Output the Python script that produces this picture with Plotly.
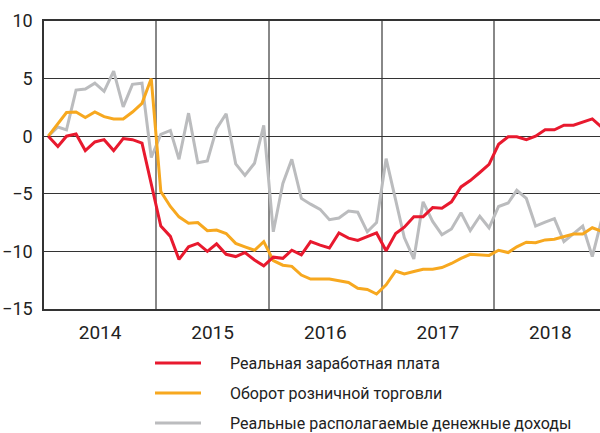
import plotly.graph_objects as go

# ---- data ----
years = [2014, 2015, 2016, 2017, 2018]
months = [f"{y}-{m:02d}-15" for y in years for m in range(1, 13)]
year_labels = ["2014", "2015", "2016", "2017", "2018"]

series_names = ["Реальная заработная плата",
                "Оборот розничной торговли",
                "Реальные располагаемые денежные доходы"]

real_wage = [
    0, -0.9, 0.0, 0.2, -1.25, -0.5, -0.3, -1.25, -0.2, -0.3, -0.6, -4.2,
    -7.8, -8.7, -10.7, -9.6, -9.3, -10.0, -9.35, -10.25, -10.45, -10.1, -10.75, -11.25,
    -10.5, -10.6, -9.9, -10.3, -9.15, -9.45, -9.7, -8.4, -8.85, -9.05, -8.7, -8.4,
    -9.95, -8.45, -7.9, -7.0, -7.0, -6.2, -6.25, -5.7, -4.4, -3.85, -3.15, -2.45,
    -0.7, -0.05, -0.05, -0.3, 0.0, 0.55, 0.55, 0.95, 0.95, 1.25, 1.5, 0.8]

retail = [
    0, 1.1, 2.05, 2.1, 1.62, 2.1, 1.7, 1.5, 1.5, 2.1, 2.85, 5.0,
    -4.8, -6.1, -7.0, -7.55, -7.5, -8.2, -8.15, -8.45, -9.3, -9.6, -9.9, -9.15,
    -10.8, -11.2, -11.3, -12.05, -12.4, -12.4, -12.4, -12.55, -12.7, -13.2, -13.3, -13.7,
    -12.9, -11.7, -11.95, -11.75, -11.55, -11.55, -11.4, -11.05, -10.6, -10.25, -10.3, -10.35,
    -9.9, -10.1, -9.6, -9.2, -9.25, -9.0, -8.95, -8.7, -8.5, -8.5, -7.95, -8.25]

income = [
    0, 0.8, 0.55, 4.0, 4.1, 4.6, 3.9, 5.65, 2.55, 4.5, 4.6, -1.85,
    0.15, 0.5, -2.0, 2.0, -2.3, -2.15, 0.65, 1.95, -2.4, -3.4, -2.35, 0.95,
    -8.3, -4.1, -2.0, -5.4, -5.9, -6.35, -7.25, -7.1, -6.5, -6.6, -8.3, -7.5,
    -1.95, -5.5, -8.8, -10.65, -5.7, -7.4, -8.55, -8.05, -6.65, -8.2, -6.95, -7.95,
    -6.1, -5.8, -4.7, -5.4, -7.8, -7.45, -7.15, -9.15, -8.5, -7.8, -10.45, -7.3]

y_ticks = [-15, -10, -5, 0, 5, 10]

# ---- style ----
colors = ["#E8192E", "#F7A81F", "#BBBCBE"]
FONT = "Roboto, sans-serif"

fig = go.Figure()
for name, vals, col in [(series_names[2], income, colors[2]),
                        (series_names[1], retail, colors[1]),
                        (series_names[0], real_wage, colors[0])]:
    fig.add_trace(go.Scatter(x=months, y=vals, mode="lines", name=name,
                             line=dict(color=col, width=3), showlegend=False))

W, H = 600, 433
L, R, T, B = 44, 0, 21, 124
pw, ph = W - L - R, H - T - B

def px_to_paper(px, py):
    return (px - L) / pw, (H - B - py) / ph

# manual legend
legend_rows = [(series_names[0], colors[0], 363),
               (series_names[1], colors[1], 393),
               (series_names[2], colors[2], 423)]
for name, col, py in legend_rows:
    x0, y0 = px_to_paper(155, py)
    x1, _ = px_to_paper(201, py)
    fig.add_shape(type="line", xref="paper", yref="paper", x0=x0, x1=x1, y0=y0, y1=y0,
                  line=dict(color=col, width=3))
    tx, ty = px_to_paper(228, py)
    fig.add_annotation(xref="paper", yref="paper", x=tx, y=ty, text=name,
                       showarrow=False, xanchor="left", yanchor="middle",
                       font=dict(family=FONT, size=16, color="#222"))

fig.update_layout(
    width=W, height=H,
    margin=dict(l=L, r=R, t=T, b=B, pad=0),
    plot_bgcolor="white", paper_bgcolor="white",
    font=dict(family=FONT, size=19, color="#222"),
    xaxis=dict(
        type="date",
        range=["2014-01-01", "2018-12-10"],
        tickmode="array",
        tickvals=[f"{y}-07-02" for y in years],
        ticktext=year_labels,
        ticks="", showgrid=False, zeroline=False, automargin=False,
        showline=True, linecolor="#333", linewidth=1.5, mirror=True,
        ticklabelstandoff=5,
        minor=dict(tickmode="array",
                   tickvals=[f"{y}-01-01" for y in years[1:]],
                   showgrid=True, gridcolor="#888", gridwidth=1.6, ticks=""),
    ),
    yaxis=dict(
        range=[-15, 10],
        tickmode="array", tickvals=y_ticks,
        tickfont=dict(size=18),
        ticks="", showgrid=True, gridcolor="#333", gridwidth=1.3,
        zeroline=False, showline=True, linecolor="#333", linewidth=1.5,
        ticklabelstandoff=6, automargin=False,
    ),
)

fig.write_html("out.html",
               config={"displayModeBar": False},
               post_script="document.body.style.margin='0';document.body.style.overflow='hidden';")
